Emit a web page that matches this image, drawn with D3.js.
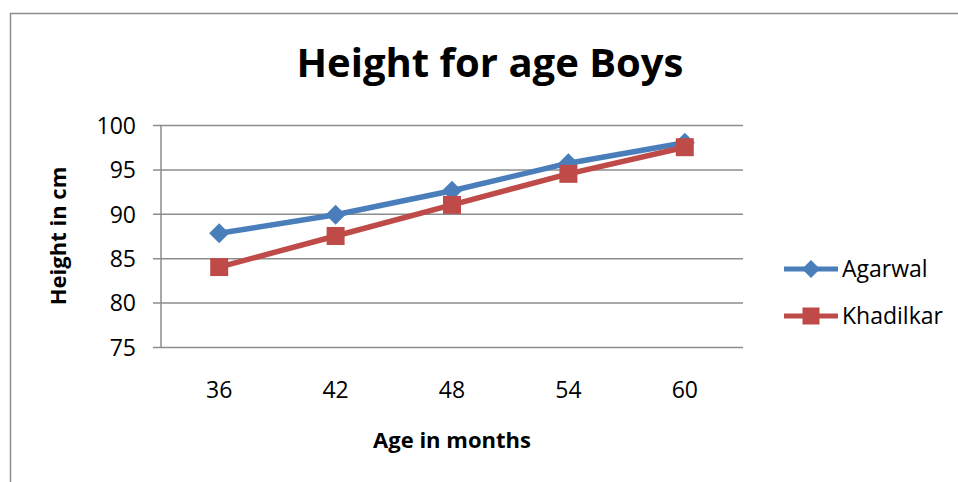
<!DOCTYPE html>
<html><head><meta charset="utf-8">
<script src="https://cdn.jsdelivr.net/npm/d3@7"></script>
<style>html,body{margin:0;padding:0;background:#fff;}svg{display:block;}</style>
</head><body>
<svg id="c" width="958" height="482"></svg>
<script>
const categories = ["36","42","48","54","60"];
const agarwal = [87.8, 89.9, 92.6, 95.7, 98.0];
const khadilkar = [84.0, 87.5, 91.0, 94.5, 97.5];
const yTicks = [75, 80, 85, 90, 95, 100];
const seriesNames = ["Agarwal","Khadilkar"];
const colors = ["#4A7EBB","#BE4B48"];

const font = "'Open Sans', Lato, sans-serif";
const svg = d3.select("#c");

// outer frame
svg.append("path").attr("d","M10.5,490 L10.5,13.5 L960,13.5")
  .attr("fill","none").attr("stroke","#8c8c8c").attr("stroke-width",1.5);

const L=161, R=743, T=125, B=347;
const x = d3.scaleBand().domain(categories).range([L,R]);
const y = d3.scaleLinear().domain([75,100]).range([B,T]);
const cx = c => x(c)+x.bandwidth()/2;

// grid + y axis
const yAxis = d3.axisLeft(y).tickValues(yTicks).tickSize(-(R-L)).tickPadding(0).tickFormat(d=>d);
const gy = svg.append("g").attr("transform",`translate(${L},0)`).call(yAxis);
gy.select(".domain").remove();
gy.selectAll(".tick line").attr("stroke","#8c8c8c").attr("stroke-width",1.5).attr("x1",-8);
gy.selectAll(".tick text").attr("x",-25).attr("dy","0.36em").attr("font-family",font).attr("font-size",23).attr("fill","#000");
svg.append("line").attr("x1",L).attr("x2",L).attr("y1",T).attr("y2",B).attr("stroke","#8c8c8c").attr("stroke-width",1.5);

const xAxis = d3.axisBottom(x).tickSize(0).tickPadding(0);
const gx = svg.append("g").attr("transform",`translate(0,${B})`).call(xAxis);
gx.select(".domain").remove();
gx.selectAll(".tick text").attr("y",51).attr("dy",0).attr("font-family",font).attr("font-size",23).attr("fill","#000");

// title & axis titles
svg.append("text").attr("x",490).attr("y",77).attr("text-anchor","middle")
  .attr("font-family",font).attr("font-weight","bold").attr("font-size",40).text("Height for age Boys");
svg.append("text").attr("x",452).attr("y",448).attr("text-anchor","middle")
  .attr("font-family",font).attr("font-weight","bold").attr("font-size",22).text("Age in months");
svg.append("text").attr("transform","translate(66,236) rotate(-90)").attr("text-anchor","middle")
  .attr("font-family",font).attr("font-weight","bold").attr("font-size",22).text("Height in cm");

const line = d3.line().x((d,i)=>cx(categories[i])).y(d=>y(d));
const data = [agarwal, khadilkar];
const diamond = r => `M0,${-r}L${r},0L0,${r}L${-r},0Z`;
const square = h => `M${-h},${-h}H${h}V${h}H${-h}Z`;
data.forEach((s,k)=>{
  svg.append("path").attr("d",line(s)).attr("fill","none").attr("stroke",colors[k]).attr("stroke-width",5.5).attr("stroke-linejoin","round");
});
data.forEach((s,k)=>{
  svg.selectAll(null).data(s).enter().append("path")
    .attr("d", k===0?diamond(10):square(9))
    .attr("transform",(d,i)=>`translate(${cx(categories[i])},${y(d)})`)
    .attr("fill",colors[k]);
});

// legend
seriesNames.forEach((n,k)=>{
  const ly = 269 + k*47;
  svg.append("line").attr("x1",784).attr("x2",838).attr("y1",ly).attr("y2",ly).attr("stroke",colors[k]).attr("stroke-width",5);
  svg.append("path").attr("d",k===0?diamond(9):square(8.5)).attr("transform",`translate(811,${ly})`).attr("fill",colors[k]);
  svg.append("text").attr("x",842).attr("y",ly+8).attr("font-family",font).attr("font-size",23).text(n);
});
</script>
</body></html>
